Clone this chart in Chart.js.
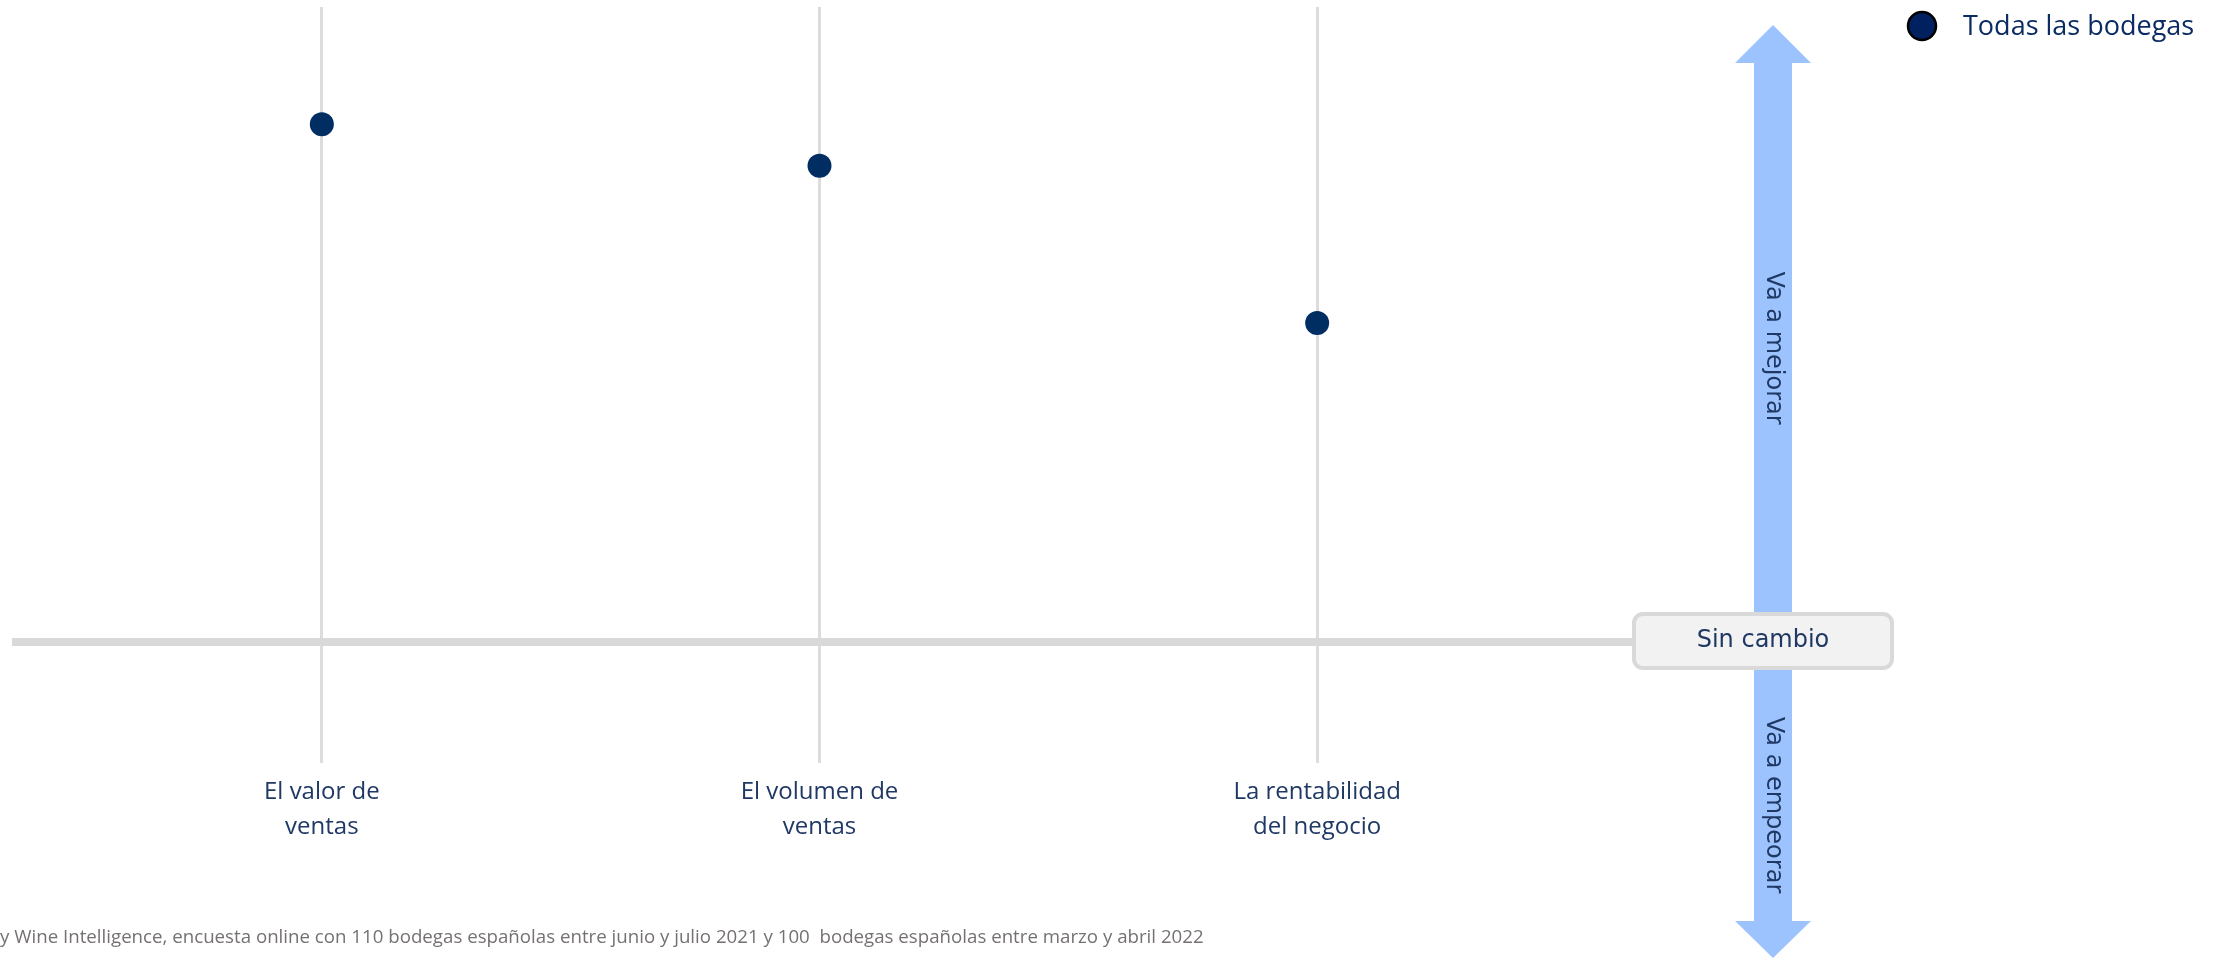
<!DOCTYPE html>
<html>
<head>
<meta charset="utf-8">
<script src="https://cdn.jsdelivr.net/npm/chart.js@4"></script>
<style>
  body { margin: 0; background: #fff; }
  canvas { display: block; }
</style>
</head>
<body>
<canvas id="chart" width="2223" height="960"></canvas>
<script>
// data
const categorias = [['El valor de', 'ventas'], ['El volumen de', 'ventas'], ['La rentabilidad', 'del negocio']];
const todasBodegas = [68.5, 63, 42.2];
const serieLabel = 'Todas las bodegas';
const yMin = -16;
const yMax = 84;
const arribaTexto = 'Va a mejorar';
const abajoTexto = 'Va a empeorar';
const ceroTexto = 'Sin cambio';
const fuente = 'y Wine Intelligence, encuesta online con 110 bodegas españolas entre junio y julio 2021 y 100  bodegas españolas entre marzo y abril 2022';

const navy = '#1F3864';

// zero line, drawn under the points
const zeroLine = {
    id: 'zeroLine',
    beforeDatasetsDraw(chart) {
        const ctx = chart.ctx;
        const y0 = chart.scales.y.getPixelForValue(0);
        ctx.save();
        ctx.fillStyle = '#d9d9d9';
        ctx.fillRect(12, y0 - 4, 1630, 8);
        ctx.restore();
    }
};

// arrow, "Sin cambio" box, legend and footer
const extras = {
    id: 'extras',
    afterDraw(chart) {
        const ctx = chart.ctx;
        const y0 = chart.scales.y.getPixelForValue(0);
        ctx.save();

        // double arrow
        const cx = 1773;
        ctx.fillStyle = '#9DC3FE';
        ctx.beginPath();
        ctx.moveTo(cx, 25);
        ctx.lineTo(cx + 38, 63);
        ctx.lineTo(cx + 19, 63);
        ctx.lineTo(cx + 19, 921);
        ctx.lineTo(cx + 38, 921);
        ctx.lineTo(cx, 958);
        ctx.lineTo(cx - 38, 921);
        ctx.lineTo(cx - 19, 921);
        ctx.lineTo(cx - 19, 63);
        ctx.lineTo(cx - 38, 63);
        ctx.closePath();
        ctx.fill();

        // arrow texts
        ctx.fillStyle = navy;
        ctx.font = '24px "DejaVu Sans"';
        ctx.textAlign = 'center';
        ctx.textBaseline = 'middle';
        [[arribaTexto, 348], [abajoTexto, 805]].forEach(([t, ty]) => {
            ctx.save();
            ctx.translate(cx, ty);
            ctx.rotate(Math.PI / 2);
            ctx.fillText(t, 0, 0);
            ctx.restore();
        });

        // box
        ctx.beginPath();
        ctx.roundRect(1634, y0 - 28, 258, 54, 9);
        ctx.fillStyle = '#f2f2f2';
        ctx.fill();
        ctx.lineWidth = 4;
        ctx.strokeStyle = '#d9d9d9';
        ctx.stroke();
        ctx.fillStyle = navy;
        ctx.font = '24px "DejaVu Sans"';
        ctx.fillText(ceroTexto, 1763, y0 - 1);

        // legend
        ctx.beginPath();
        ctx.arc(1922, 26, 14, 0, Math.PI * 2);
        ctx.fillStyle = '#002060';
        ctx.fill();
        ctx.lineWidth = 2.5;
        ctx.strokeStyle = '#000';
        ctx.stroke();
        ctx.fillStyle = '#0B2B63';
        ctx.font = '27px "Open Sans"';
        ctx.textAlign = 'left';
        ctx.fillText(chart.data.datasets[0].label, 1963, 27);

        // footer
        ctx.fillStyle = '#767171';
        ctx.font = '18.7px "Open Sans"';
        ctx.textBaseline = 'alphabetic';
        ctx.fillText(fuente, 0, 943);
        ctx.restore();
    }
};

const ctxChart = document.getElementById('chart');
const grafico = new Chart(ctxChart, {
    type: 'line',
    data: {
        labels: categorias,
        datasets: [{
            label: serieLabel,
            data: todasBodegas,
            showLine: false,
            pointRadius: 12,
            pointBackgroundColor: '#002D62',
            pointBorderWidth: 0
        }]
    },
    options: {
        responsive: false,
        animation: false,
        devicePixelRatio: 1,
        layout: {
            autoPadding: false,
            padding: { left: 73, right: 657, top: 7, bottom: 0 }
        },
        plugins: {
            legend: { display: false },
            tooltip: { enabled: false }
        },
        scales: {
            x: {
                offset: true,
                grid: { color: '#dcdcdc', lineWidth: 3, offset: false, drawTicks: false },
                border: { display: false },
                ticks: {
                    color: navy,
                    font: { family: 'Open Sans', size: 24, lineHeight: 1.45 },
                    padding: 12,
                    maxRotation: 0,
                    autoSkip: false
                },
                afterFit(scale) {
                    scale.height = 197;
                }
            },
            y: {
                min: yMin,
                max: yMax,
                display: false
            }
        }
    },
    plugins: [zeroLine, extras]
});
</script>
</body>
</html>
